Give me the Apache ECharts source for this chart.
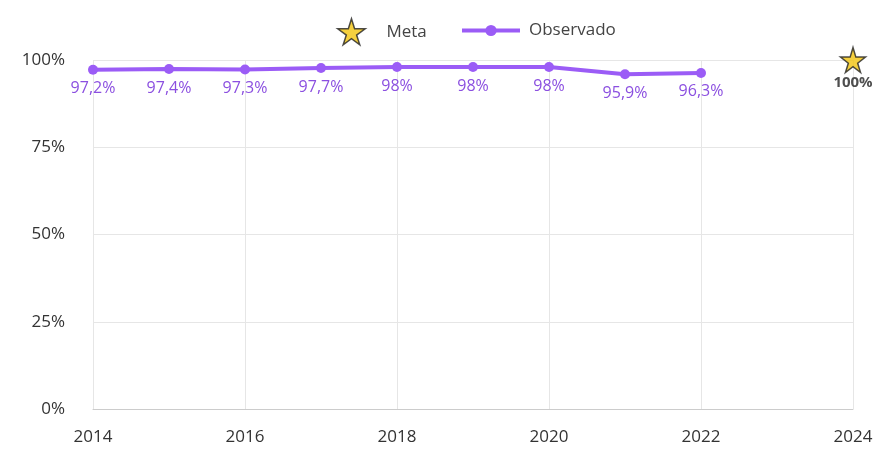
<!DOCTYPE html>
<html>
<head>
<meta charset="utf-8">
<script src="https://cdn.jsdelivr.net/npm/echarts@6/dist/echarts.min.js"></script>
<style>
  html, body { margin: 0; padding: 0; background: #fff; }
  #chart { width: 878px; height: 449px; }
</style>
</head>
<body>
<div id="chart"></div>
<script>
// dados
const anos = [2014, 2015, 2016, 2017, 2018, 2019, 2020, 2021, 2022];
const observado = [97.2, 97.4, 97.3, 97.7, 98, 98, 98, 95.9, 96.3];
const metaAno = [2024];
const metaValor = [100];

const fmt = v => String(v).replace('.', ',') + '%';
const estrela = 'path://M50,0 L61,35 L98,35 L68,57 L79,91 L50,70 L21,91 L32,57 L2,35 L39,35 Z';

const chart = echarts.init(document.getElementById('chart'));
const option = {
  textStyle: { fontFamily: 'Open Sans' },
  legend: [
    {
      left: 332,
      top: 13,
      itemWidth: 28,
      itemHeight: 26,
      itemGap: 10,
      textStyle: { fontSize: 17, color: '#444', padding: [0, 0, 0, 16] },
      data: [{ name: 'Meta', icon: estrela, itemStyle: { color: '#f2c40f', borderColor: '#222', borderWidth: 1.5 } }]
    },
    {
      left: 455,
      top: 17,
      itemWidth: 58,
      itemHeight: 14,
      textStyle: { fontSize: 17, color: '#444', padding: [0, 0, 0, 4] },
      data: [{ name: 'Observado', lineStyle: { width: 4 } }]
    }
  ],
  grid: { left: 93, right: 25, top: 60, bottom: 40 },
  xAxis: {
    type: 'value',
    min: 2014,
    max: 2024,
    interval: 2,
    axisLine: { lineStyle: { color: '#ccc' } },
    axisTick: { show: false },
    axisLabel: { fontSize: 17, color: '#333', margin: 20, formatter: v => String(v) },
    splitLine: { show: true, lineStyle: { color: '#e6e6e6' } }
  },
  yAxis: {
    type: 'value',
    min: 0,
    max: 100,
    interval: 25,
    axisLine: { show: false },
    axisTick: { show: false },
    axisLabel: { fontSize: 17, color: '#333', formatter: '{value}%', margin: 28 },
    splitLine: { lineStyle: { color: '#e6e6e6' } }
  },
  series: [
    {
      name: 'Meta',
      type: 'scatter',
      symbol: estrela,
      symbolSize: 25,
      itemStyle: { color: '#f2c40f', borderColor: '#222', borderWidth: 1.5 },
      label: {
        show: true,
        position: 'bottom',
        distance: 2,
        formatter: p => fmt(p.value[1]),
        fontSize: 15,
        fontWeight: 'bold',
        color: '#222'
      },
      data: metaAno.map((a, i) => [a, metaValor[i]])
    },
    {
      name: 'Observado',
      type: 'line',
      symbol: 'circle',
      symbolSize: 10,
      lineStyle: { width: 4, color: '#9b5cf6' },
      itemStyle: { color: '#9b5cf6' },
      label: {
        show: true,
        position: 'bottom',
        distance: 6,
        formatter: p => fmt(p.value[1]),
        fontSize: 16,
        color: '#8b4fe0'
      },
      data: anos.map((a, i) => [a, observado[i]])
    }
  ]
};
chart.setOption(option);
</script>
</body>
</html>
